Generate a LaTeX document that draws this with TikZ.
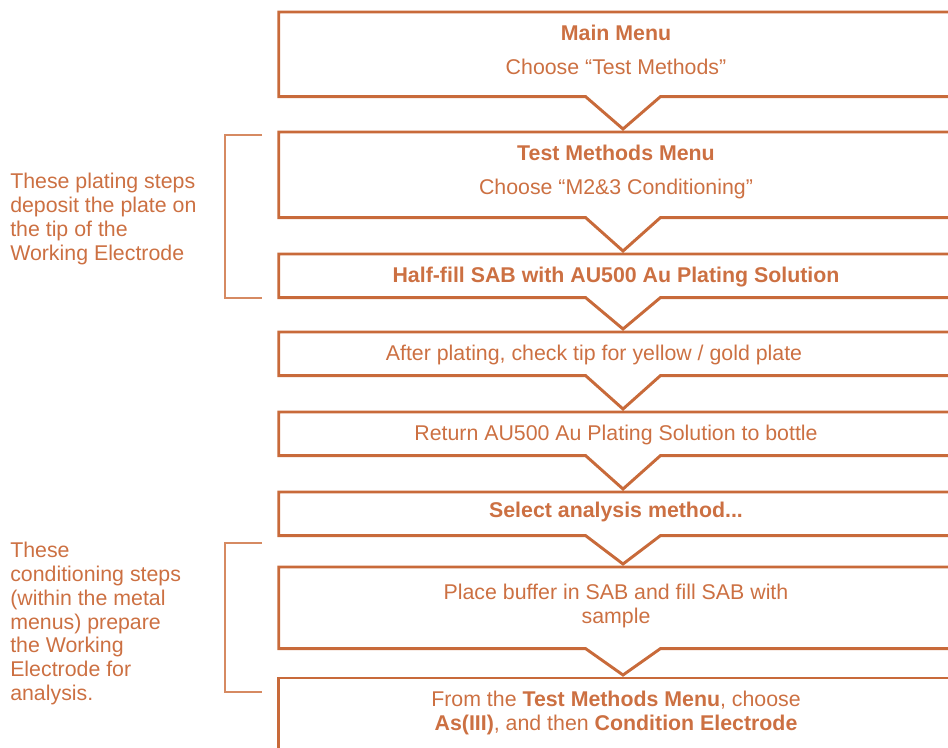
\documentclass[tikz,border=0pt]{standalone}
\usepackage{fontspec}
\setmainfont{Liberation Sans}
\usetikzlibrary{calc}

\definecolor{rust}{RGB}{200,106,58}
\definecolor{rustink}{RGB}{204,112,66}
\definecolor{rustlight}{RGB}{214,138,98}

\tikzset{
  stepbox/.style={anchor=north, minimum width=505.5pt, inner xsep=0pt, inner ysep=9.4pt,
    text height=11.7pt, text depth=1.75pt, align=center, text=rustink,
    font=\fontsize{16}{17.85}\selectfont},
  stepline/.style={draw=rust, line width=2.2pt, line join=miter},
  bracket/.style={draw=rustlight, line width=1.1pt},
  note/.style={anchor=north west, align=left, inner sep=0pt, text=rustink,
    font=\fontsize{16}{17.85}\selectfont}
}

\begin{document}
\begin{tikzpicture}[x=0.75pt,y=-0.75pt]
            \useasboundingbox (0,0) rectangle (948,747);
            \clip (0,0) rectangle (948,747);

            \node[stepbox, text height=37.2pt, text depth=7pt] (menu) at (616,12) {\textbf{Main Menu}\\[7.65pt]Choose “Test Methods”};
            \node[stepbox, text height=37.2pt, text depth=7.75pt] (testmenu) at (616,132) {\textbf{Test Methods Menu}\\[7.65pt]Choose “M2\&3 Conditioning”};
            \node[stepbox] (halffill) at (616,254) {\textbf{Half-fill SAB with AU500 Au Plating Solution}};
            \node[stepbox] (check) at (616,332) {After plating, check tip for yellow / gold plate\hspace*{33pt}};
            \node[stepbox] (return) at (616,412) {Return AU500 Au Plating Solution to bottle};
            \node[stepbox, text height=9.45pt, text depth=4pt] (select) at (616,492) {\textbf{Select analysis method...}};
            \node[stepbox, text height=32.95pt, text depth=9pt] (buffer) at (616,567) {Place buffer in SAB and fill SAB with\\sample};
            \node[stepbox, text height=29.55pt, text depth=19.15pt] (condition) at (616,678) {From the \textbf{Test Methods Menu}, choose\\\textbf{As(III)}, and then \textbf{Condition Electrode}};

            \node[note] (platenote) at (10,173) {These plating steps\\deposit the plate on\\the tip of the\\Working Electrode};
            \node[note] (condnote) at (10,542) {These\\conditioning steps\\(within the metal\\menus) prepare\\the Working\\Electrode for\\analysis.};

            % box outlines, the V runs down to the next box
            \draw[stepline] ($(menu.south)+(-30.5,0)$) -- (menu.south west) |- (menu.north east) |- ($(menu.south)+(44.5,0)$) -- ($(testmenu.north)+(7,-3)$) -- cycle;
            \draw[stepline] ($(testmenu.south)+(-30.5,0)$) -- (testmenu.south west) |- (testmenu.north east) |- ($(testmenu.south)+(44.5,0)$) -- ($(halffill.north)+(7,-3)$) -- cycle;
            \draw[stepline] ($(halffill.south)+(-30.5,0)$) -- (halffill.south west) |- (halffill.north east) |- ($(halffill.south)+(44.5,0)$) -- ($(check.north)+(7,-3)$) -- cycle;
            \draw[stepline] ($(check.south)+(-30.5,0)$) -- (check.south west) |- (check.north east) |- ($(check.south)+(44.5,0)$) -- ($(return.north)+(7,-3)$) -- cycle;
            \draw[stepline] ($(return.south)+(-30.5,0)$) -- (return.south west) |- (return.north east) |- ($(return.south)+(44.5,0)$) -- ($(select.north)+(7,-3)$) -- cycle;
            \draw[stepline] ($(select.south)+(-30.5,0)$) -- (select.south west) |- (select.north east) |- ($(select.south)+(44.5,0)$) -- ($(buffer.north)+(7,-3)$) -- cycle;
            \draw[stepline] ($(buffer.south)+(-30.5,0)$) -- (buffer.south west) |- (buffer.north east) |- ($(buffer.south)+(44.5,0)$) -- ($(condition.north)+(7,-3)$) -- cycle;
            \draw[stepline] (condition.south west) |- (condition.north east) -- (condition.south east);

            % brackets
            \draw[bracket] (262,135) -| (225,298) -- (262,298);
            \draw[bracket] (262,543) -| (225,692) -- (262,692);
        \end{tikzpicture}
\end{document}
